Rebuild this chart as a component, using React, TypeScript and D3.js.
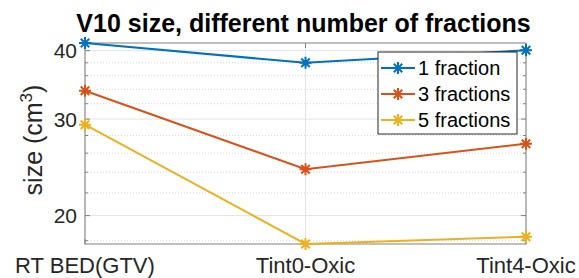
import { scaleLinear, scaleLog, line, extent } from "d3";

const categories = ["RT BED(GTV)", "Tint0-Oxic", "Tint4-Oxic"];
const seriesNames = ["1 fraction", "3 fractions", "5 fractions"];
const oneFraction = [41.3, 38.0, 40.05];
const threeFractions = [33.8, 24.3, 27.05];
const fiveFractions = [29.3, 17.75, 18.3];
const majorTicks = [20, 30, 40];
const minorTicks = [18, 22, 24, 26, 28, 32, 34, 36, 38];
const colors = ["#0072BD", "#D95319", "#EDB120"];

const FONT = "'Liberation Sans', Arial, Helvetica, sans-serif";

function asterisk(r: number) {
  const a = r * 0.707;
  return `M${-r} 0L${r} 0M0 ${-r}L0 ${r}M${-a} ${-a}L${a} ${a}M${-a} ${a}L${a} ${-a}`;
}

export default function App() {
  const width = 579;
  const height = 278;
  const left = 85;
  const right = 526;
  const top = 43;
  const bottom = 244;
  const series = [oneFraction, threeFractions, fiveFractions];
  const [lo, hi] = extent(series.flat()) as [number, number];

  const x = scaleLinear().domain([0, categories.length - 1]).range([left, right]);
  const y = scaleLog().domain([lo, hi]).range([bottom, top]);
  const path = line<number>()
    .x((_, i) => x(i))
    .y((d) => y(d));

  const axisColor = "#262626";
  const tickLen = 5;

  return (
    <svg
      width={width}
      height={height}
      style={{ position: "fixed", left: 0, top: 0, background: "#fff" }}
      fontFamily={FONT}
    >
      <rect x={0} y={0} width={width} height={height} fill="#fff" />
      {/* minor grid */}
      {minorTicks.map((t) => (
        <line key={`mg${t}`} x1={left} x2={right} y1={y(t)} y2={y(t)} stroke="#d9d9d9" strokeDasharray="1 2" />
      ))}
      {/* major grid */}
      {majorTicks.map((t) => (
        <line key={`g${t}`} x1={left} x2={right} y1={y(t)} y2={y(t)} stroke="#e3e3e3" />
      ))}
      {categories.map((c, i) => (
        <line key={`vg${c}`} x1={x(i)} x2={x(i)} y1={top} y2={bottom} stroke="#e3e3e3" />
      ))}
      {/* axes box */}
      <rect x={left} y={top} width={right - left} height={bottom - top} fill="none" stroke="#808080" />
      {minorTicks.map((t) => (
        <g key={`mt${t}`} stroke="#808080">
          <line x1={left} x2={left + 3} y1={y(t)} y2={y(t)} />
          <line x1={right} x2={right - 3} y1={y(t)} y2={y(t)} />
        </g>
      ))}
      {majorTicks.map((t) => (
        <g key={`t${t}`}>
          <line x1={left} x2={left + tickLen} y1={y(t)} y2={y(t)} stroke="#808080" />
          <line x1={right} x2={right - tickLen} y1={y(t)} y2={y(t)} stroke="#808080" />
          <text x={left - 8} y={y(t) + 7.5} textAnchor="end" fontSize={21} fill={axisColor}>
            {t}
          </text>
        </g>
      ))}
      {categories.map((c, i) => (
        <g key={`xt${c}`}>
          <line x1={x(i)} x2={x(i)} y1={bottom} y2={bottom - tickLen} stroke="#808080" />
          <line x1={x(i)} x2={x(i)} y1={top} y2={top + tickLen} stroke="#808080" />
          <text x={x(i)} y={273} textAnchor="middle" fontSize={22} fill={axisColor}>
            {c}
          </text>
        </g>
      ))}
      {/* series */}
      {series.map((s, k) => (
        <g key={`s${k}`}>
          <path d={path(s) ?? ""} fill="none" stroke={colors[k]} strokeWidth={2} />
          {s.map((v, i) => (
            <path
              key={i}
              d={asterisk(6)}
              transform={`translate(${x(i)},${y(v)})`}
              stroke={colors[k]}
              strokeWidth={2}
              fill="none"
            />
          ))}
        </g>
      ))}
      {/* legend */}
      <rect x={378} y={52} width={139} height={82} fill="#fff" stroke="#262626" strokeWidth={1} />
      {seriesNames.map((name, k) => {
        const ly = 68 + k * 26;
        return (
          <g key={name}>
            <line x1={381} x2={415} y1={ly} y2={ly} stroke={colors[k]} strokeWidth={2} />
            <path d={asterisk(6)} transform={`translate(398,${ly})`} stroke={colors[k]} strokeWidth={2} />
            <text x={418} y={ly + 7} fontSize={20} fill="#000">
              {name}
            </text>
          </g>
        );
      })}
      {/* title */}
      <text x={(left + right) / 2 - 2} y={32} textAnchor="middle" fontSize={25} fontWeight="bold" fill="#000">
        V10 size, different number of fractions
      </text>
      {/* y label */}
      <text transform="translate(42,140) rotate(-90)" textAnchor="middle" fontSize={25} fill={axisColor}>
        size (cm
        <tspan fontSize={17} dy={-10}>
          3
        </tspan>
        <tspan dy={10}>)</tspan>
      </text>
    </svg>
  );
}
